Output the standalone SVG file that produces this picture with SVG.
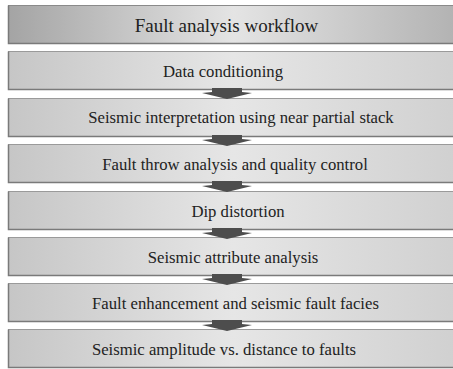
<svg xmlns="http://www.w3.org/2000/svg" width="453" height="369" viewBox="0 0 453 369">
<defs>
<linearGradient id="gTitle" x1="0" y1="0" x2="1" y2="0">
<stop offset="0" stop-color="#a4a4a4"/>
<stop offset="0.5" stop-color="#e4e4e4"/>
<stop offset="1" stop-color="#b2b2b2"/>
</linearGradient>
<linearGradient id="gBox" x1="0" y1="0" x2="1" y2="0">
<stop offset="0" stop-color="#c6c6c6"/>
<stop offset="0.5" stop-color="#e6e6e6"/>
<stop offset="1" stop-color="#d0d0d0"/>
</linearGradient>
<polygon id="arrow" points="-15,0 15,0 15,4 25,5 0,11 -25,5 -15,4" fill="#4d4d4d"/>
</defs>
<style>
.box{fill:url(#gBox);stroke:#9a9a9a;stroke-width:1}
.title{fill:url(#gTitle);stroke:#8a8a8a;stroke-width:1}
.edge{stroke:#7a7a7a;stroke-width:1.5;fill:none}
.lbl{font-family:'Liberation Serif','Times New Roman',serif;font-size:16.7px;fill:#222;text-anchor:middle}
</style>
<rect width="453" height="369" fill="#ffffff"/>
<g id="n0">
<rect class="title" x="8.5" y="5.5" width="450" height="38"/>
<path class="edge" d="M8.5 5.5V43.5H453"/>
<text class="lbl" x="226.5" y="32" style="font-size:19px">Fault analysis workflow</text>
</g>
<g id="n1">
<rect class="box" x="8.5" y="51.5" width="450" height="38"/>
<path class="edge" d="M8.5 51.5V89.5H453"/>
<text class="lbl" x="223" y="77">Data conditioning</text>
</g>
<g id="n2">
<rect class="box" x="8.5" y="98.5" width="450" height="38"/>
<path class="edge" d="M8.5 98.5V136.5H453"/>
<text class="lbl" x="241" y="123">Seismic interpretation using near partial stack</text>
</g>
<g id="n3">
<rect class="box" x="8.5" y="144.5" width="450" height="38"/>
<path class="edge" d="M8.5 144.5V182.5H453"/>
<text class="lbl" x="235" y="170">Fault throw analysis and quality control</text>
</g>
<g id="n4">
<rect class="box" x="8.5" y="191.5" width="450" height="38"/>
<path class="edge" d="M8.5 191.5V229.5H453"/>
<text class="lbl" x="238" y="217">Dip distortion</text>
</g>
<g id="n5">
<rect class="box" x="8.5" y="237.5" width="450" height="38"/>
<path class="edge" d="M8.5 237.5V275.5H453"/>
<text class="lbl" x="233" y="263">Seismic attribute analysis</text>
</g>
<g id="n6">
<rect class="box" x="8.5" y="283.5" width="450" height="38"/>
<path class="edge" d="M8.5 283.5V321.5H453"/>
<text class="lbl" x="235.5" y="309">Fault enhancement and seismic fault facies</text>
</g>
<g id="n7">
<rect class="box" x="8.5" y="329.5" width="450" height="38"/>
<path class="edge" d="M8.5 329.5V367.5H453"/>
<text class="lbl" x="224" y="355">Seismic amplitude vs. distance to faults</text>
</g>
<g id="connectors">
<use href="#arrow" x="227" y="88"/>
<use href="#arrow" x="227" y="135"/>
<use href="#arrow" x="227" y="181"/>
<use href="#arrow" x="227" y="228"/>
<use href="#arrow" x="227" y="274"/>
<use href="#arrow" x="227" y="320"/>
</g>
</svg>
